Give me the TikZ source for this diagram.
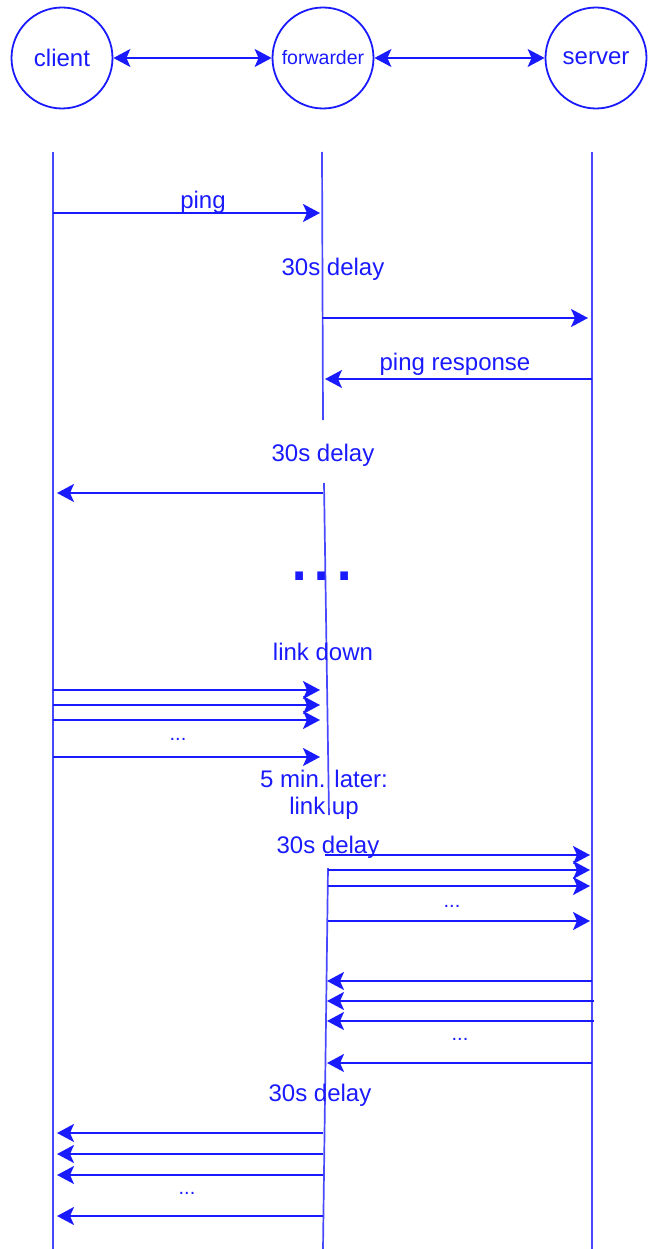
\documentclass[tikz,border=0pt]{standalone}
\usepackage{fontspec}
\setmainfont{Liberation Sans}
\usetikzlibrary{arrows.meta, positioning}
\definecolor{sBlue}{HTML}{1A1AFF}

\begin{document}
\begin{tikzpicture}[x=1pt, y=-1pt,
      lbl/.style={text=sBlue, font=\fontsize{24}{24}\selectfont, inner sep=0pt},
      ell/.style={text=sBlue, font=\fontsize{20}{20}\selectfont, inner sep=0pt},
      actor/.style={draw=sBlue, circle, line width=1.8pt, minimum size=101pt,
        inner sep=0pt, text=sBlue, font=\fontsize{24}{24}\selectfont},
      life/.style={draw=sBlue!80, line width=1.7pt},
      msg/.style={draw=sBlue, line width=1.9pt, -{Stealth[length=17pt, width=18pt, inset=4pt]}},
      both/.style={draw=sBlue, line width=1.9pt,
        {Stealth[length=17pt, width=18pt, inset=4pt]}-{Stealth[length=17pt, width=18pt, inset=4pt]}}]
    \useasboundingbox (0,0) rectangle (652,1249);
    % participants
    \node[actor] (client) at (62,58) {client};
    \node[actor, font=\fontsize{19.5}{19.5}\selectfont] (fwd) at (323,58) {forwarder};
    \node[actor] (server) at (596,58) {server};
    \draw[both] (client) -- (fwd);
    \draw[both] (fwd) -- (server);
    % lifelines
    \coordinate (clT) at (53,152);  \coordinate (clB) at (53,1249);
    \coordinate (svT) at (592,152); \coordinate (svB) at (592,1249);
    \coordinate (fwA) at (322,152); \coordinate (fwB) at (323,420);
    \coordinate (fwC) at (324,483); \coordinate (fwD) at (329,815);
    \coordinate (fwE) at (328,868); \coordinate (fwF) at (323,1249);
    \draw[life] (clT) -- (clB);
    \draw[life] (svT) -- (svB);
    \draw[life] (fwA) -- (fwB);
    \draw[life] (fwC) -- (fwD);
    \draw[life] (fwE) -- (fwF);
    % ping round trip
    \coordinate (p1) at (53,213);  \coordinate (p2) at (320,213);
    \draw[msg] (p1) -- (p2);
    \node[lbl] (lPing) at (203,202) {ping};
    \node[lbl] (lDelA) at (333,269) {30s delay};
    \coordinate (p3) at (322,318); \coordinate (p4) at (588,318);
    \draw[msg] (p3) -- (p4);
    \coordinate (p5) at (592,379); \coordinate (p6) at (325,379);
    \draw[msg] (p5) -- (p6);
    \node[lbl] (lResp) at (455,364) {ping response};
    \node[lbl] (lDelB) at (323,455) {30s delay};
    \coordinate (p7) at (323,493); \coordinate (p8) at (57,493);
    \draw[msg] (p7) -- (p8);
    \node[text=sBlue, inner sep=0pt, anchor=base,
      font=\fontsize{80}{80}\selectfont] (gap) at (322,580) {...};
    % link down
    \node[lbl] (lDown) at (323,652) {link down};
    \foreach \y [count=\i] in {690,705,720,757} {
      \coordinate (c\i) at (53,\y); \coordinate (f\i) at (320,\y);
      \draw[msg] (c\i) -- (f\i);
    }
    \node[ell] (eA) at (178,739) {...};
    \node[lbl, align=center] (lUp) at (324,795) {5 min. later:\\[3pt]link up};
    \node[lbl] (lDelC) at (328,847) {30s delay};
    \foreach \x/\y [count=\i] in {325/855,328/870,328/886,328/921} {
      \coordinate (g\i) at (\x,\y); \coordinate (s\i) at (590,\y);
      \draw[msg] (g\i) -- (s\i);
    }
    \node[ell] (eB) at (452,906) {...};
    \foreach \x/\y [count=\i] in {592/981,594/1001,594/1021,592/1063} {
      \coordinate (r\i) at (\x,\y); \coordinate (h\i) at (327,\y);
      \draw[msg] (r\i) -- (h\i);
    }
    \node[ell] (eC) at (460,1039) {...};
    \node[lbl] (lDelD) at (320,1095) {30s delay};
    \foreach \y [count=\i] in {1133,1154,1175,1216} {
      \coordinate (k\i) at (323,\y); \coordinate (m\i) at (57,\y);
      \draw[msg] (k\i) -- (m\i);
    }
    \node[ell] (eD) at (187,1193) {...};
  \end{tikzpicture}
\end{document}
